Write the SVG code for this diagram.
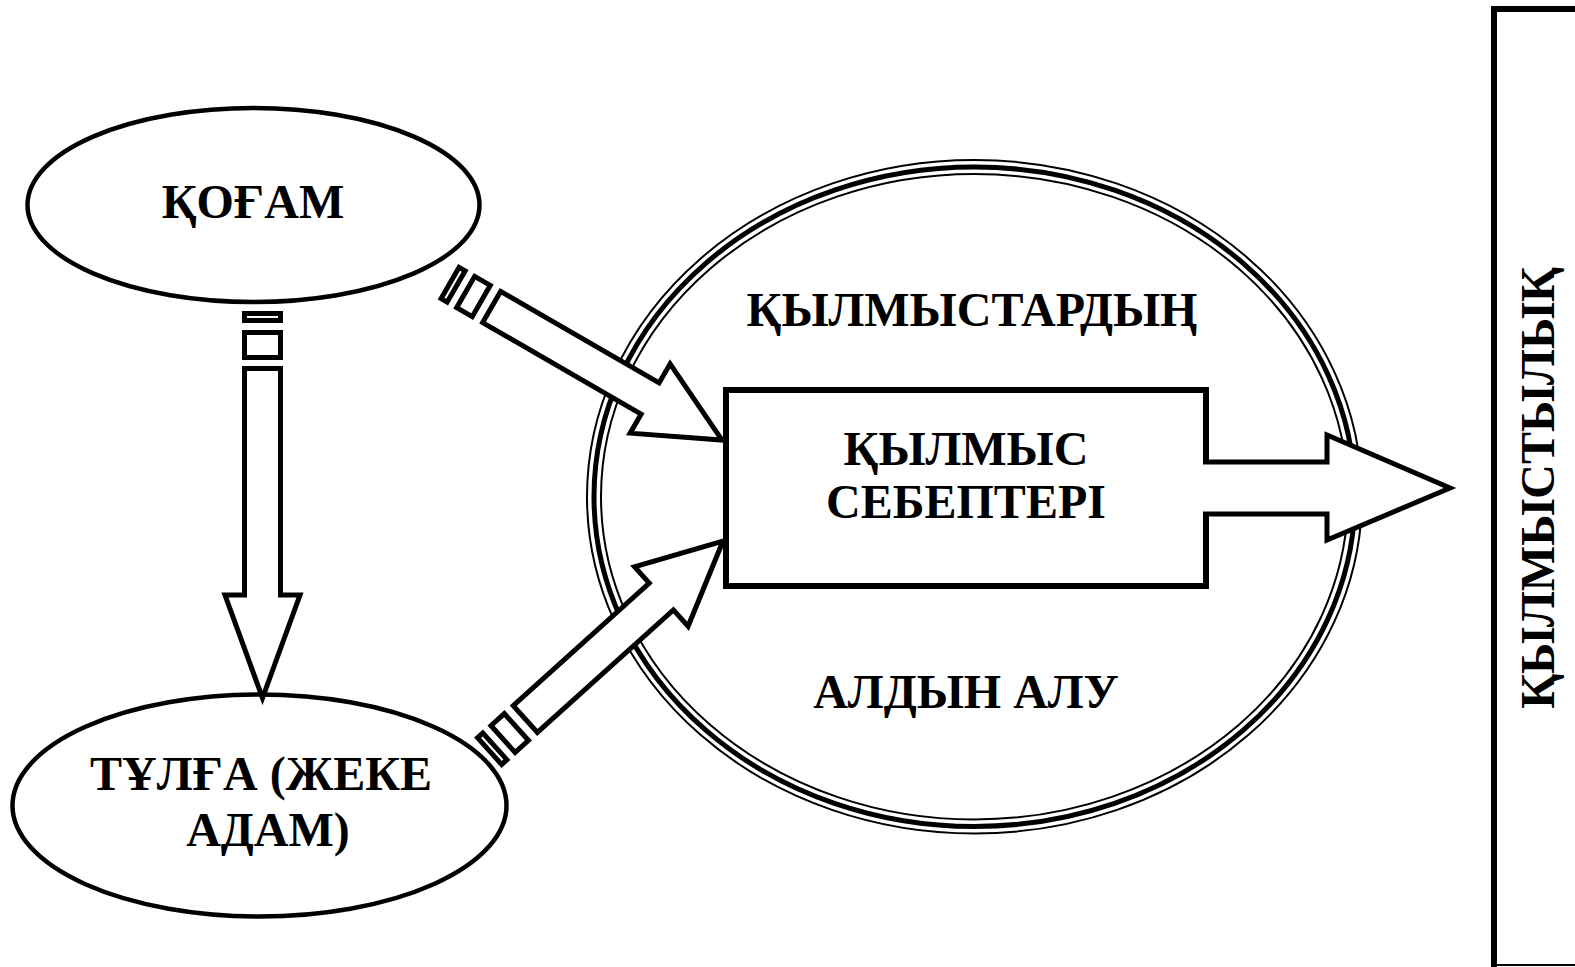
<svg xmlns="http://www.w3.org/2000/svg" width="1575" height="967" viewBox="0 0 1575 967">
<style>
.ln{fill:#fff;stroke:#000;stroke-width:4.5;stroke-linejoin:miter}
.ar{fill:#fff;stroke:#000;stroke-width:5;stroke-linejoin:miter}
.t{font-family:"Liberation Serif","Times New Roman",serif;font-weight:bold;font-size:48px;fill:#000;text-anchor:middle}
</style>
<defs>
<g id="darrow">
<rect class="ar" x="-314" y="-18" width="7" height="36"/>
<rect class="ar" x="-296" y="-18" width="18" height="36"/>
<polygon class="ar" points="-266,-18 -83,-18 -83,-40 0,0 -83,40 -83,18 -266,18"/>
</g>
</defs>
<rect width="1575" height="967" fill="#fff"/>

<g id="node-kogam">
<ellipse class="ln" cx="253.5" cy="205" rx="226" ry="97"/>
<text class="t" x="253" y="218">ҚОҒАМ</text>
</g>

<g id="node-tulga">
<ellipse class="ln" cx="259.5" cy="805.5" rx="247" ry="111"/>
<text class="t" x="261" y="790">ТҰЛҒА (ЖЕКЕ</text>
<text class="t" x="268" y="846">АДАМ)</text>
</g>

<g id="node-prevention">
<ellipse cx="974.5" cy="496.75" rx="387.5" ry="336.75" fill="none" stroke="#000" stroke-width="2"/>
<ellipse cx="974.5" cy="496.75" rx="380.5" ry="329.75" fill="#fff" stroke="#000" stroke-width="5"/>
<ellipse cx="974.5" cy="496.75" rx="373.5" ry="322.75" fill="none" stroke="#000" stroke-width="2"/>
<text class="t" x="972" y="326">ҚЫЛМЫСТАРДЫҢ</text>
<text class="t" x="966" y="708">АЛДЫН АЛУ</text>
</g>

<g id="node-causes">
<rect x="726" y="390" width="480" height="196" fill="#fff" stroke="#000" stroke-width="6"/>
<text class="t" x="966" y="465">ҚЫЛМЫС</text>
<text class="t" x="966" y="518">СЕБЕПТЕРІ</text>
</g>

<g id="node-crime">
<path d="M1494,967 V9 H1575" fill="none" stroke="#000" stroke-width="6"/>
<line x1="1494" y1="965" x2="1575" y2="965" stroke="#000" stroke-width="2"/>
<text class="t" transform="translate(1554,488) rotate(-90)">ҚЫЛМЫСТЫЛЫҚ</text>
</g>

<g id="connectors">
<g>
<rect class="ar" x="244.5" y="313.5" width="36" height="7"/>
<rect class="ar" x="244.5" y="332.5" width="36" height="25"/>
<polygon class="ar" points="244.5,368.5 280.5,368.5 280.5,595 300,595 262.5,698 225,595 244.5,595"/>
</g>
<use href="#darrow" transform="translate(722,440) rotate(30)"/>
<use href="#darrow" transform="translate(723,541) rotate(-42)"/>
<path class="ar" d="M1203,462 H1327 V435 L1450,488 L1327,540 V514 H1203" stroke-width="6"/>
</g>
</svg>
